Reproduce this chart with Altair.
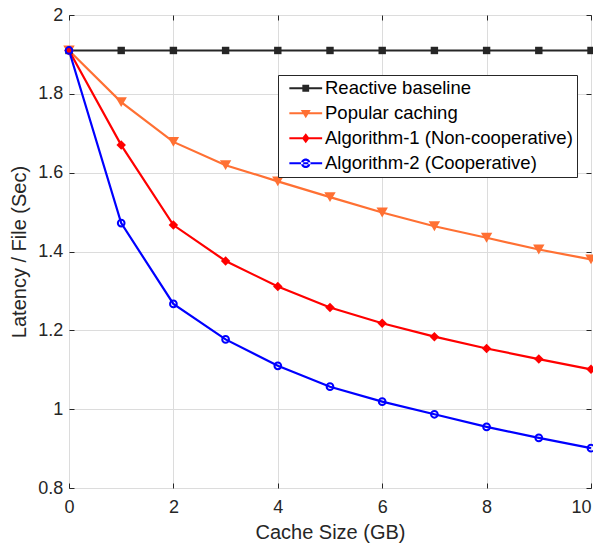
import altair as alt
import pandas as pd

cache_gb = [0, 1, 2, 3, 4, 5, 6, 7, 8, 9, 10]
reactive_baseline = [1.91, 1.91, 1.91, 1.91, 1.91, 1.91, 1.91, 1.91, 1.91, 1.91, 1.91]
popular_caching = [1.91, 1.779, 1.678, 1.619, 1.578, 1.538, 1.499, 1.464, 1.435, 1.405, 1.380]
algorithm_1 = [1.91, 1.670, 1.467, 1.376, 1.311, 1.258, 1.218, 1.184, 1.154, 1.127, 1.101]
algorithm_2 = [1.91, 1.472, 1.267, 1.177, 1.110, 1.057, 1.019, 0.987, 0.955, 0.927, 0.901]

series_names = [
    "Reactive baseline",
    "Popular caching",
    "Algorithm-1 (Non-cooperative)",
    "Algorithm-2 (Cooperative)",
]
series_values = [reactive_baseline, popular_caching, algorithm_1, algorithm_2]
series_colors = ["#262626", "#FF7033", "#FF0000", "#0000FF"]
marker_shapes = ["square", "triangle-down", "diamond", "circle"]
marker_sizes = [55, 130, 90, 45]
marker_filled = [True, True, True, False]

# legend glyphs (filled paths): a short thick line with the series marker on it
LINE = "M-4.1,-0.27H4.1V0.27H-4.1Z"
legend_glyphs = [
    LINE + "M-0.85,-0.85H0.85V0.85H-0.85Z",
    LINE + "M-1.25,-0.8H1.25L0,1.25Z",
    LINE + "M0,-1.25L0.95,0L0,1.25L-0.95,0Z",
    LINE + "M-1.2,0A1.2,1.2 0 1,0 1.2,0A1.2,1.2 0 1,0 -1.2,0ZM-0.65,0A0.65,0.65 0 1,1 0.65,0A0.65,0.65 0 1,1 -0.65,0Z",
]

x_ticks = [0, 2, 4, 6, 8, 10]
y_ticks = [0.8, 1.0, 1.2, 1.4, 1.6, 1.8, 2.0]

rows = []
for name, vals in zip(series_names, series_values):
    for x, v in zip(cache_gb, vals):
        rows.append({"cache": x, "latency": v, "series": name})
df = pd.DataFrame(rows)

FONT = "Liberation Sans"
TXT = "#262626"
GRID = "#dcdcdc"

xscale = alt.Scale(domain=[0, 10], nice=False, zero=False)
yscale = alt.Scale(domain=[0.8, 2.0], nice=False, zero=False)

x_main = alt.X(
    "cache:Q", scale=xscale,
    axis=alt.Axis(values=x_ticks, format="d", grid=True, gridColor=GRID, gridWidth=1,
                  domain=False, ticks=True, tickSize=5, offset=-5, tickColor=TXT,
                  labelFlush=False,
                  labelAlign={"condition": {"test": "datum.value >= 10", "value": "right"},
                              "value": "center"},
                  labelPadding=10.5, labelFontSize=18, labelFont=FONT,
                  labelColor=TXT, title="Cache Size (GB)", titleFont=FONT, titleFontSize=20,
                  titleFontWeight="normal", titleColor=TXT, titlePadding=6),
)
y_main = alt.Y(
    "latency:Q", scale=yscale,
    axis=alt.Axis(values=y_ticks, format=".1~f", grid=True, gridColor=GRID, gridWidth=1,
                  domain=False, ticks=True, tickSize=5, offset=-5, tickColor=TXT,
                  labelFlush=False, labelPadding=6.3, labelFontSize=18, labelFont=FONT,
                  labelColor=TXT, title="Latency / File (Sec)", titleFont=FONT, titleFontSize=20,
                  titleFontWeight="normal", titleColor=TXT, titlePadding=8),
)
x_plain = alt.X("cache:Q", scale=xscale, axis=None)
y_plain = alt.Y("latency:Q", scale=yscale, axis=None)

base = alt.Chart(df)

# grid + main axes (invisible carrier)
axes_layer = base.mark_point(opacity=0).encode(x=x_main, y=y_main)
layers = [axes_layer]

for name, col in zip(series_names, series_colors):
    ln = base.transform_filter(alt.datum.series == name).mark_line(
        strokeWidth=2.2, color=col
    ).encode(x=x_plain, y=y_plain)
    layers.append(ln)

for name, col, shp, sz, fl in zip(series_names, series_colors, marker_shapes, marker_sizes, marker_filled):
    pts = base.transform_filter(alt.datum.series == name).mark_point(
        shape=shp, size=sz, filled=fl, color=col, strokeWidth=2 if not fl else 1, opacity=1
    ).encode(x=x_plain, y=y_plain)
    layers.append(pts)

mirror = base.mark_point(opacity=0).encode(
    x=alt.X("cache:Q", scale=xscale,
            axis=alt.Axis(orient="top", values=x_ticks, labels=False, grid=False, domain=False,
                          ticks=True, tickSize=5, offset=-5, tickColor=TXT, title=None)),
    y=alt.Y("latency:Q", scale=yscale,
            axis=alt.Axis(orient="right", values=y_ticks, labels=False, grid=False, domain=False,
                          ticks=True, tickSize=5, offset=-5, tickColor=TXT, title=None)),
)
layers.append(mirror)

legend_spec = alt.Legend(
    title=None,
    labelExpr="datum.label + '\u00a0\u00a0\u00a0\u00a0\u00a0\u00a0'",
)
legend_layer = base.mark_point(opacity=0, filled=True).encode(
    x=x_plain,
    y=y_plain,
    shape=alt.Shape("series:N", scale=alt.Scale(domain=series_names, range=legend_glyphs),
                    legend=legend_spec),
    color=alt.Color("series:N", scale=alt.Scale(domain=series_names, range=series_colors),
                    legend=legend_spec),
)
layers.append(legend_layer)

chart = (
    alt.layer(*layers)
    .resolve_axis(x="independent", y="independent")
    .properties(
        width=522, height=473,
        autosize=alt.AutoSizeParams(type="none"),
        padding={"left": 61, "top": 7, "right": 2, "bottom": 56},
        background="white",
    )
    .configure_view(stroke=TXT, strokeWidth=1)
    .configure_legend(
        orient="none", legendX=209, legendY=60, padding=4,
        strokeColor=TXT, fillColor="white", cornerRadius=0,
        labelFont=FONT, labelFontSize=18.5, labelColor="#000000", labelLimit=400,
        symbolSize=64, symbolStrokeWidth=0, symbolOpacity=1,
        rowPadding=6, labelOffset=10, symbolOffset=14.5,
    )
)

chart.save("out.html", embed_options={"renderer": "svg", "actions": False})
